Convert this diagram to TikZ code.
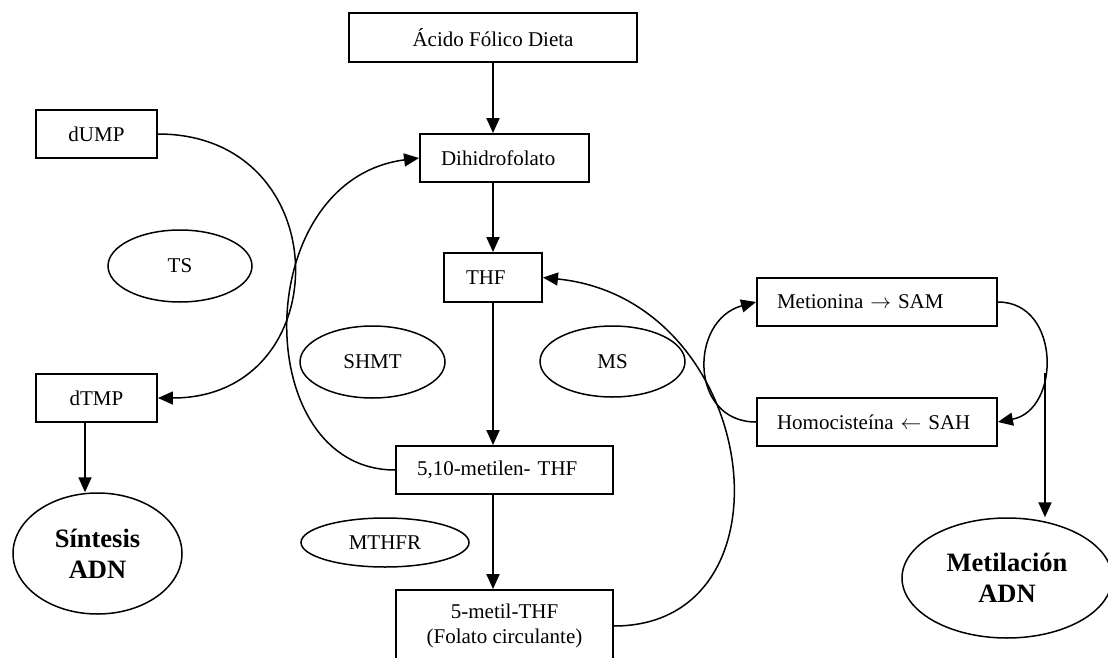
\documentclass[tikz,border=0pt]{standalone}
\usepackage{fontspec}
\setmainfont{Liberation Serif}
\usetikzlibrary{arrows.meta,shapes.geometric}
\begin{document}
\begin{tikzpicture}[x=1pt,y=-1pt,
  nf/.style={font=\fontsize{21}{25}\selectfont},
  bf/.style={font=\fontsize{26.5}{31}\selectfont\bfseries},
  box/.style={draw, line width=1.9pt, inner ysep=0pt, inner xsep=0pt, minimum height=48pt, nf},
  cbox/.style={box, align=center},
  lbox/.style={box, align=left},
  ell/.style={draw, ellipse, line width=1.5pt, inner sep=0pt, nf},
  bell/.style={draw, ellipse, line width=1.5pt, inner sep=0pt, align=center, bf},
  arr/.style={line width=1.9pt, -{Triangle[length=15pt,width=13pt]}},
  carr/.style={line width=1.5pt, -{Triangle[length=15pt,width=13pt]}}
]
\useasboundingbox (0,0) rectangle (1108,658);
\clip (0,0) rectangle (1108,658);

% boxes
\node[cbox, minimum width=288pt, minimum height=49pt] (acido) at (493,37.5) {Ácido Fólico Dieta};
\node[lbox, text width=127pt, inner xsep=21pt] (dihidro) at (504.5,158) {Dihidrofolato};
\node[lbox, text width=54pt, inner xsep=22pt, minimum height=49pt] (thf) at (493,277.5) {THF};
\node[lbox, text width=175pt, inner xsep=21pt] (metilen) at (504.5,470) {5,10-metilen- THF};
\node[cbox, minimum width=217pt, minimum height=72pt] (metil) at (504.5,626) {5-metil-THF\\(Folato circulante)};
\node[cbox, minimum width=121pt] (dump) at (96.5,134) {dUMP};
\node[cbox, minimum width=121pt] (dtmp) at (96.5,398) {dTMP};
\node[lbox, text width=200pt, inner xsep=20pt] (metionina) at (877,302) {Metionina $\rightarrow$ SAM};
\node[lbox, text width=200pt, inner xsep=20pt] (homo) at (877,422) {Homocisteína $\leftarrow$ SAH};

% ellipses
\node[ell, minimum width=144pt, minimum height=72pt] (ts) at (180,266) {TS};
\node[ell, minimum width=145pt, minimum height=72pt] (shmt) at (372.5,362) {SHMT};
\node[ell, minimum width=145pt, minimum height=71pt] (ms) at (612.5,361.5) {MS};
\node[ell, minimum width=168pt, minimum height=49pt] (mthfr) at (385,542.5) {MTHFR};
\node[bell, minimum width=169pt, minimum height=121pt] (sintesis) at (97.5,553.5) {Síntesis\\ADN};
\node[bell, minimum width=210pt, minimum height=120pt] (metilacion) at (1007,578) {Metilación\\ADN};

% straight arrows
\draw[arr] (acido.south) -- (acido.south |- dihidro.north);
\draw[arr] (thf.north |- dihidro.south) -- (thf.north);
\draw[arr] (thf.south) -- (thf.south |- metilen.north);
\draw[arr] (thf.south |- metilen.south) -- (thf.south |- metil.north);
\draw[arr] ([xshift=-11.5pt]dtmp.south) -- ([xshift=-11.5pt]dtmp.south |- sintesis.north);

% curved arrows
\draw[carr] (dump.east) .. controls +(181,0) and +(181,0) .. (dtmp.east);
\draw[carr] (metilen.west) .. controls +(-146,0) and +(-170,22) .. (dihidro.west);
\draw[carr] (metil.east) .. controls +(187,0) and +(218,22) .. (thf.east);
\draw[carr] (homo.west) .. controls +(-67,0) and +(-67,18) .. (metionina.west);
\draw[carr] (metionina.east) .. controls +(63,0) and +(63,-12) .. (homo.east);

% split to methylation
\coordinate (split) at (1045,373);
\draw[arr] (split) -- (split |- metilacion.north);
\end{tikzpicture}
\end{document}
